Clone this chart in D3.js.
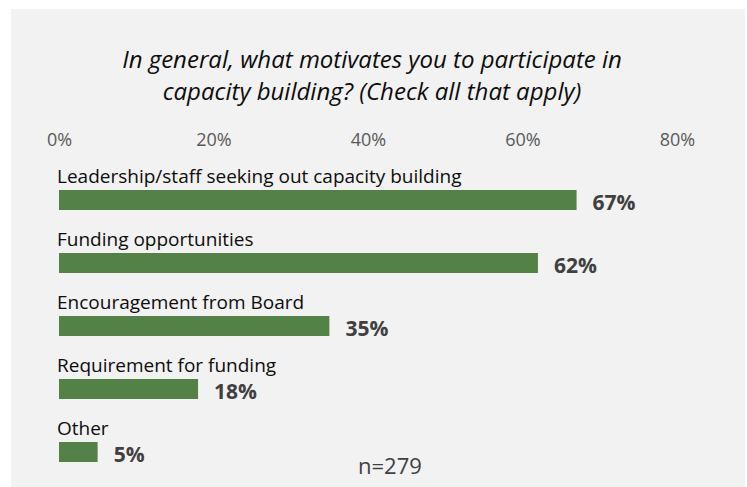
<!DOCTYPE html>
<html>
<head>
<meta charset="utf-8">
<script src="https://cdn.jsdelivr.net/npm/d3@7"></script>
<style>
  html, body { margin: 0; padding: 0; background: #ffffff; }
  svg { display: block; }
</style>
</head>
<body>
<svg id="chart" width="747" height="487"></svg>
<script>
// Survey responses: share of respondents selecting each motivation
const categories = [
  "Leadership/staff seeking out capacity building",
  "Funding opportunities",
  "Encouragement from Board",
  "Requirement for funding",
  "Other"
];
const values = [0.67, 0.62, 0.35, 0.18, 0.05];
const tickValues = [0, 0.2, 0.4, 0.6, 0.8];
const titleLines = [
  "In general, what motivates you to participate in",
  "capacity building? (Check all that apply)"
];
const sampleNote = "n=279";

const W = 747, H = 487;
const FONT = "'Open Sans', sans-serif";
const svg = d3.select("#chart");

// panel background
svg.append("rect")
  .attr("x", 11).attr("y", 9)
  .attr("width", 734).attr("height", H - 9)
  .attr("fill", "#f2f2f2");

// title
svg.append("g")
  .selectAll("text")
  .data(titleLines)
  .join("text")
  .attr("x", 372)
  .attr("y", (d, i) => 68 + i * 32)
  .attr("text-anchor", "middle")
  .attr("font-family", FONT)
  .attr("font-style", "italic")
  .attr("font-size", 24)
  .attr("fill", "#0d0d0d")
  .text(d => d);

const x = d3.scaleLinear().domain([0, 0.8]).range([59, 677]);
const y = d3.scalePoint().domain(categories).range([190, 442]);
const barH = 20;

// top axis: labels only
const axis = svg.append("g")
  .attr("transform", "translate(0,146)")
  .call(d3.axisTop(x).tickValues(tickValues).tickFormat(d3.format(".0%")).tickSize(0).tickPadding(0));
axis.select(".domain").remove();
axis.selectAll("text")
  .attr("font-family", FONT)
  .attr("font-size", 18)
  .attr("fill", "#595959")
  .attr("dy", 0);

// bars
svg.append("g")
  .selectAll("rect")
  .data(categories)
  .join("rect")
  .attr("x", x(0))
  .attr("y", d => y(d))
  .attr("width", (d, i) => x(values[i]) - x(0))
  .attr("height", barH)
  .attr("fill", "#548246");

// category labels above each bar
svg.append("g")
  .selectAll("text")
  .data(categories)
  .join("text")
  .attr("x", 57)
  .attr("y", d => y(d) - 7)
  .attr("font-family", FONT)
  .attr("font-size", 19)
  .attr("fill", "#0d0d0d")
  .text(d => d);

// value labels
svg.append("g")
  .selectAll("text")
  .data(categories)
  .join("text")
  .attr("x", (d, i) => x(values[i]) + 16)
  .attr("y", d => y(d) + barH)
  .attr("font-family", FONT)
  .attr("font-weight", "bold")
  .attr("font-size", 21)
  .attr("fill", "#404040")
  .text((d, i) => d3.format(".0%")(values[i]));

// sample size note
svg.append("text")
  .attr("x", 358)
  .attr("y", 474)
  .attr("font-family", FONT)
  .attr("font-size", 22)
  .attr("fill", "#404040")
  .text(sampleNote);
</script>
</body>
</html>
